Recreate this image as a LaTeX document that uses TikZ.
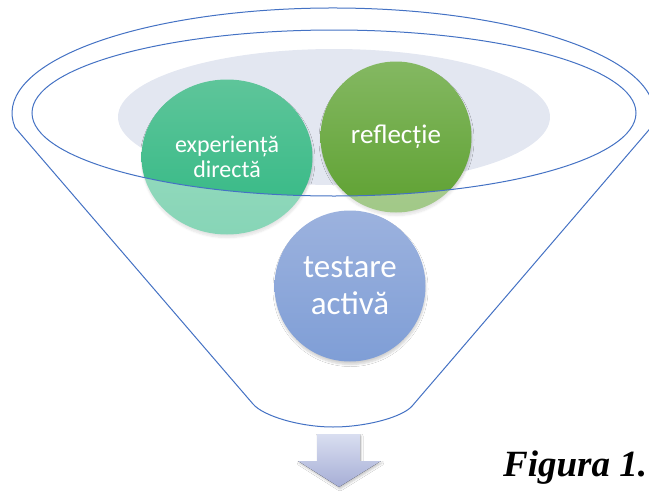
\documentclass[tikz,border=0pt]{standalone}
\usepackage{fontspec}
\setmainfont{Liberation Serif}
\newfontfamily\calfont{Carlito}
\usetikzlibrary{shapes.geometric,shadows.blur}
\definecolor{lineblue}{HTML}{4472C4}
\definecolor{haze}{HTML}{E3E7F1}
\definecolor{gtop}{HTML}{5EC59A}
\definecolor{gbot}{HTML}{30B883}
\definecolor{ltop}{HTML}{84B862}
\definecolor{lbot}{HTML}{5EA131}
\definecolor{btop}{HTML}{9CB2DE}
\definecolor{bbot}{HTML}{7F9ED6}
\definecolor{atop}{HTML}{D9DEF0}
\definecolor{abot}{HTML}{A6AED6}
\tikzset{
  funnel/.style={draw=lineblue, line width=1pt},
  bubble/.style={ellipse, inner sep=0pt, text=white, align=center, font=\calfont,
    blur shadow={shadow xshift=0.5pt, shadow yshift=-3pt, shadow blur radius=2pt,
      shadow blur steps=6, shadow opacity=18}},
}
\begin{document}
\begin{tikzpicture}[x=1pt,y=-1pt]
\useasboundingbox (0,0) rectangle (649,493);
% haze ellipse
\fill[haze] (334,117) ellipse [x radius=216, y radius=68];
% top circles
\node[bubble, minimum width=171pt, minimum height=155pt, top color=gtop, bottom color=gbot,
  font=\calfont\fontsize{24}{25}\selectfont] (exp) at (227,157) {experiență\\directă};
\node[bubble, minimum width=151pt, minimum height=151pt, top color=ltop, bottom color=lbot,
  font=\calfont\fontsize{27}{30}\selectfont] (refl) at (396,137) {reflecție};
% fade outside the funnel mouth
\fill[white, fill opacity=.42, even odd rule] (0,0) rectangle (649,493)
  (334,113) ellipse [x radius=302, y radius=83];
% bottom circle
\node[bubble, minimum width=151pt, minimum height=151pt, top color=btop, bottom color=bbot,
  font=\calfont\fontsize{33}{37}\selectfont] (test) at (350,286) {testare\\activă};
% funnel mouth (inner ellipse)
\draw[funnel] (334,113) ellipse [x radius=302, y radius=83];
% funnel body
\coordinate (lk) at (15.1,127.6);
\coordinate (rk) at (650.9,127.6);
\coordinate (lb) at (253,404);
\coordinate (rb) at (413,405);
\coordinate (bot) at (333,427);
\draw[funnel] (lk) -- (lb) .. controls (263,416) and (300,427) .. (bot)
  .. controls (366,427) and (404,417) .. (rb) -- (rk)
  arc[start angle=8, end angle=-188, x radius=321, y radius=105];
% down arrow
\fill[top color=atop, bottom color=abot,
  blur shadow={shadow xshift=1pt, shadow yshift=-2pt, shadow blur radius=2pt, shadow opacity=22}]
  (317,434) -- (360,434) -- (360,461) -- (381,461) -- (339,487) -- (298,461) -- (317,461) -- cycle;
% caption
\node[anchor=base west, inner sep=0pt, font=\bfseries\itshape\fontsize{37}{42}\selectfont] (cap) at (503,476) {Figura 1.};
\end{tikzpicture}
\end{document}
